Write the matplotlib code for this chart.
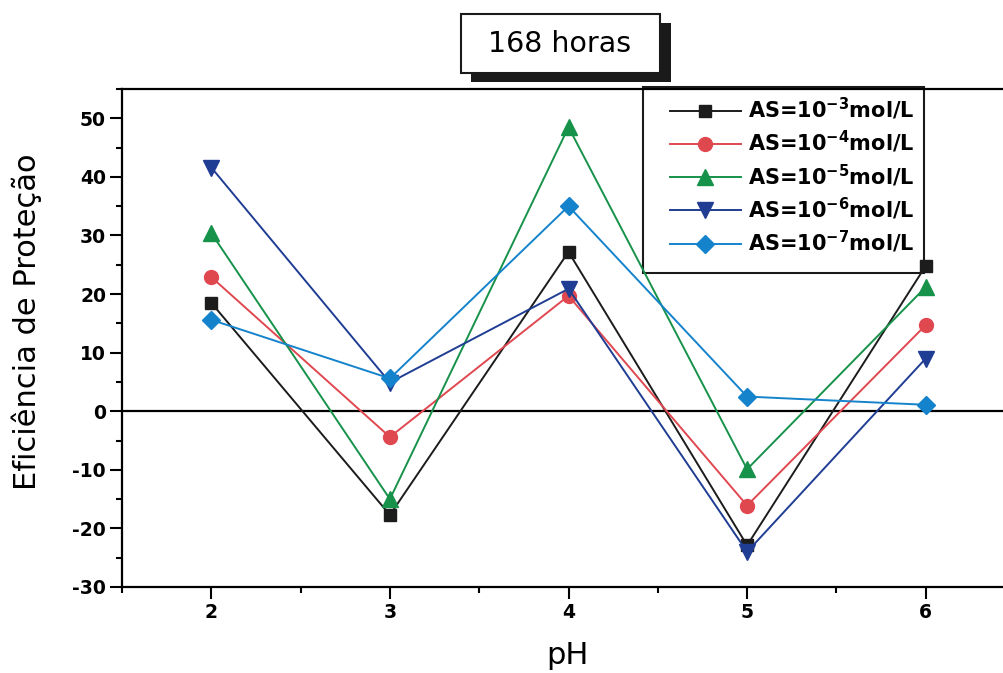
import matplotlib
matplotlib.use('Agg')
import matplotlib.pyplot as plt
from matplotlib.ticker import MultipleLocator
from matplotlib.patches import Rectangle

plt.rcParams['font.family'] = 'DejaVu Sans'
plt.rcParams['mathtext.default'] = 'regular'
plt.rcParams['axes.unicode_minus'] = False

# eficiencia de protecao (%) apos 168 h, por pH e concentracao de AS
ph = [2, 3, 4, 5, 6]
as_1e3 = [18.5, -17.7, 27.2, -22.9, 24.8]
as_1e4 = [22.9, -4.4, 19.7, -16.1, 14.7]
as_1e5 = [30.4, -15.0, 48.5, -9.9, 21.2]
as_1e6 = [41.6, 4.9, 20.9, -24.0, 9.0]
as_1e7 = [15.6, 5.6, 35.0, 2.5, 1.1]
labels = ['AS=10$^{-3}$mol/L', 'AS=10$^{-4}$mol/L', 'AS=10$^{-5}$mol/L',
          'AS=10$^{-6}$mol/L', 'AS=10$^{-7}$mol/L']

series = [as_1e3, as_1e4, as_1e5, as_1e6, as_1e7]
cores = ['#1c1c1c', '#e04850', '#17924a', '#203d94', '#1583cc']
marcas = ['s', 'o', '^', 'v', 'D']
tam = [9, 10, 11, 11, 9]

W, H = 1004, 673
fig = plt.figure(figsize=(W / 100, H / 100), dpi=100)
ax = fig.add_axes([122 / W, 1 - 587 / H, (1015 - 122) / W, (587 - 89) / H])

for y, c, m, s, lab in zip(series, cores, marcas, tam, labels):
    ax.plot(ph, y, color=c, marker=m, markersize=s, lw=1.4, label=lab,
            markeredgecolor=c, zorder=3)

ax.axhline(0, color='black', lw=1.6, zorder=1)

ax.set_xlim(1.5, 6.5)
ax.set_ylim(-30, 55)
ax.xaxis.set_major_locator(MultipleLocator(1))
ax.xaxis.set_minor_locator(MultipleLocator(0.5))
ax.yaxis.set_major_locator(MultipleLocator(10))
ax.yaxis.set_minor_locator(MultipleLocator(5))
ax.tick_params(which='major', direction='out', length=8.5, width=1.5,
               labelsize=13.5, pad=3)
ax.tick_params(which='minor', direction='out', length=4, width=1.5)
for lb in ax.get_xticklabels() + ax.get_yticklabels():
    lb.set_fontweight('bold')
for sp in ax.spines.values():
    sp.set_linewidth(1.6)

fig.text(27 / W, 1 - 322 / H, 'Eficiência de Proteção', rotation=90,
         ha='center', va='center', fontsize=22)
fig.text(567 / W, 1 - 655 / H, 'pH', ha='center', va='center', fontsize=22)

# moldura da legenda desenhada a parte
ax.add_patch(Rectangle((643 / W, 1 - 273 / H), (924 - 643) / W, (273 - 87) / H,
                       transform=fig.transFigure, facecolor='white',
                       edgecolor='#1a1a1a', lw=1.5, zorder=2, clip_on=False))
leg = ax.legend(loc='upper left', bbox_to_anchor=(670 / W, 1 - 96 / H),
                bbox_transform=fig.transFigure, borderaxespad=0, borderpad=0,
                frameon=False, handlelength=3.4, handletextpad=0.35,
                labelspacing=0.34, prop={'size': 15, 'weight': 'bold'})

# caixa do titulo com sombra
fig.patches.append(Rectangle((471 / W, 1 - 82 / H), 200 / W, 59 / H,
                             transform=fig.transFigure, facecolor='#1a1a1a',
                             edgecolor='none', zorder=5))
fig.patches.append(Rectangle((461 / W, 1 - 73 / H), 199 / W, 59 / H,
                             transform=fig.transFigure, facecolor='white',
                             edgecolor='#1a1a1a', lw=1.5, zorder=6))
fig.text(560 / W, 1 - 44 / H, '168 horas', ha='center', va='center',
         fontsize=20.5, zorder=7)

fig.savefig('out.png', dpi=100)
